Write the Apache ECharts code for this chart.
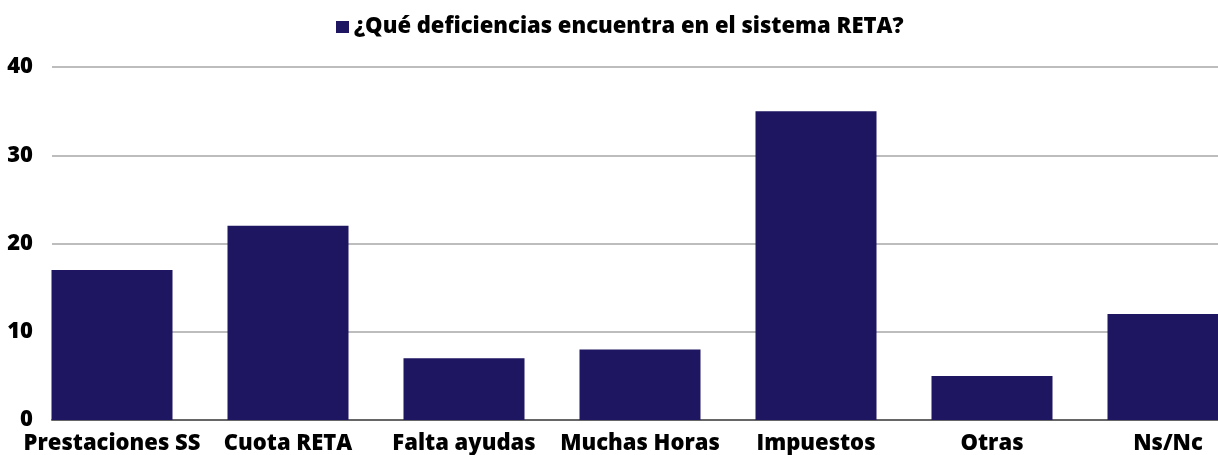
<!DOCTYPE html>
<html>
<head>
<meta charset="utf-8">
<script src="https://cdn.jsdelivr.net/npm/echarts@6/dist/echarts.min.js"></script>
<style>
  html, body { margin: 0; padding: 0; background: #fff; }
  #chart { width: 1218px; height: 455px; }
</style>
</head>
<body>
<div id="chart"></div>
<script>
// datos de la encuesta
const categories = ['Prestaciones SS', 'Cuota RETA', 'Falta ayudas', 'Muchas Horas', 'Impuestos', 'Otras', 'Ns/Nc'];
const values = [17, 22, 7, 8, 35, 5, 12];
const seriesName = '¿Qué deficiencias encuentra en el sistema RETA?';

const FONT = '"Open Sans", sans-serif';
const BAR_COLOR = '#1e1660';

const chart = echarts.init(document.getElementById('chart'));

chart.setOption({
  animation: false,
  legend: {
    left: 331,
    top: 11,
    icon: 'rect',
    itemWidth: 13,
    itemHeight: 12,
    itemGap: 10,
    textStyle: { fontFamily: FONT, fontWeight: 800, fontSize: 22, color: '#000' },
    data: [seriesName]
  },
  grid: [
    // rejilla con líneas y eje Y visible
    { left: 52, right: 0, top: 67, bottom: 35, outerBoundsMode: 'none' },
    // rejilla de las barras (más ancha, se recorta a la derecha)
    { left: 24, width: 7 * 176, top: 67, bottom: 35, outerBoundsMode: 'none' }
  ],
  xAxis: [
    {
      gridIndex: 0,
      type: 'value',
      min: 0,
      max: 1,
      axisLine: { show: true, lineStyle: { color: '#666', width: 2 } },
      axisTick: { show: false },
      axisLabel: { show: false },
      splitLine: { show: false }
    },
    {
      gridIndex: 1,
      type: 'category',
      data: categories,
      axisLine: { show: false },
      axisTick: { show: false },
      axisLabel: {
        margin: 13,
        fontFamily: FONT,
        fontWeight: 800,
        fontSize: 22,
        color: '#000',
        interval: 0
      }
    }
  ],
  yAxis: [
    {
      gridIndex: 0,
      type: 'value',
      min: 0,
      max: 40,
      interval: 10,
      axisLine: { show: false },
      axisTick: { show: false },
      axisLabel: {
        margin: 19,
        fontFamily: FONT,
        fontWeight: 800,
        fontSize: 22,
        color: '#000'
      },
      splitLine: { lineStyle: { color: '#bdbdbd', width: 2 } }
    },
    {
      gridIndex: 1,
      type: 'value',
      min: 0,
      max: 40,
      show: false,
      splitLine: { show: false }
    }
  ],
  series: [
    {
      name: seriesName,
      type: 'bar',
      xAxisIndex: 1,
      yAxisIndex: 1,
      data: values,
      barWidth: 121,
      itemStyle: { color: BAR_COLOR }
    }
  ]
});
</script>
</body>
</html>
